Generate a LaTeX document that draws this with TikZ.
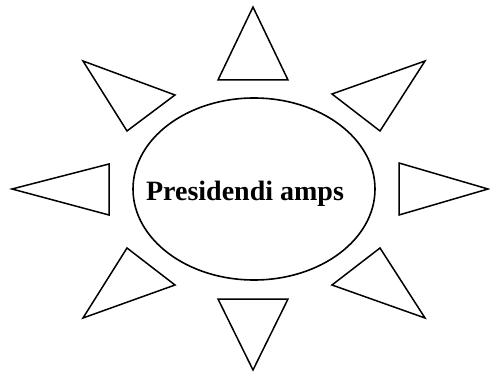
\documentclass[tikz,border=0pt]{standalone}
\usepackage{fontspec}
\setmainfont{Liberation Serif}

\begin{document}
\begin{tikzpicture}[
  x=1pt, y=-1pt,
  ray/.style={draw, line width=1.5pt, line join=miter},
  sun/.style={draw, line width=1.6pt},
  title/.style={font=\bfseries\fontsize{28}{32}\selectfont, anchor=base}
]
\useasboundingbox (0,0) rectangle (490,374);

% Centre of the sun
\draw[sun] (254,189) ellipse [x radius=121, y radius=91];
\node[title] (name) at (245,201) {Presidendi amps};

% Rays, clockwise from the top
\foreach \a/\b/\c in {
  {(218,80)}/{(288,80)}/{(253,7)},
  {(332,94)}/{(425,61)}/{(380,131)},
  {(399,163)}/{(399,215)}/{(488,189)},
  {(380,248)}/{(332,285)}/{(425,318)},
  {(218,299)}/{(288,299)}/{(253,370)},
  {(127,248)}/{(175,285)}/{(83,318)},
  {(109,164)}/{(109,215)}/{(12,189)},
  {(83,61)}/{(175,95)}/{(127,131)}} {
  \draw[ray] \a -- \b -- \c -- cycle;
}

\end{tikzpicture}
\end{document}
